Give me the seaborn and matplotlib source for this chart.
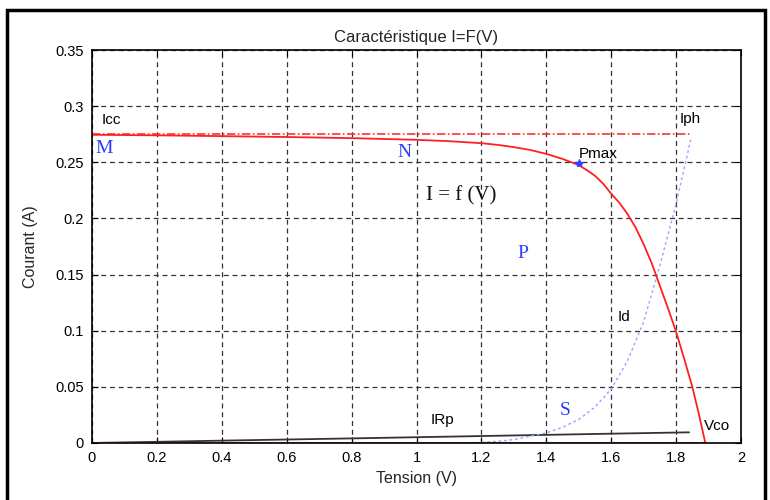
import pandas as pd
import seaborn as sns
import matplotlib.pyplot as plt
from matplotlib.patches import Rectangle

# Values
v_curve = [0, 0.2, 0.4, 0.6, 0.8, 1.0, 1.1, 1.2, 1.25, 1.3, 1.35, 1.4, 1.45, 1.5,
           1.525, 1.55, 1.575, 1.6, 1.625, 1.65, 1.675, 1.7, 1.725, 1.75, 1.775,
           1.8, 1.825, 1.85, 1.87, 1.89]
i_curve = [0.2745, 0.2740, 0.2733, 0.2725, 0.2715, 0.2700, 0.2688, 0.2670, 0.2655,
           0.2635, 0.2610, 0.2575, 0.2530, 0.2475, 0.2430, 0.2380, 0.2310, 0.2220,
           0.2140, 0.2040, 0.1920, 0.1770, 0.1600, 0.1400, 0.1200, 0.0990, 0.0750,
           0.0500, 0.0260, 0.0]

v_id = [1.15, 1.2, 1.25, 1.3, 1.35, 1.4, 1.45, 1.5, 1.55, 1.6, 1.65, 1.7, 1.75,
        1.8, 1.845]
i_id = [0.0, 0.0005, 0.0015, 0.003, 0.006, 0.009, 0.014, 0.021, 0.032, 0.048,
        0.073, 0.108, 0.158, 0.213, 0.270]

v_irp = [0, 0.4, 0.8, 1.2, 1.6, 1.84]
i_irp = [0, 0.0021, 0.0041, 0.0062, 0.0083, 0.0095]

v_icc = [0, 1.85]
i_icc = [0.2755, 0.2755]

v_zero = [0, 1.89]
i_zero = [0, 0]

v_pmax, i_pmax = 1.5, 0.249

df_curve = pd.DataFrame({'V': v_curve, 'I': i_curve})
df_id = pd.DataFrame({'V': v_id, 'I': i_id})
df_irp = pd.DataFrame({'V': v_irp, 'I': i_irp})

sns.set_style("white")
plt.rcParams['font.family'] = ['Liberation Sans', 'DejaVu Sans']

fig = plt.figure(figsize=(7.7, 5), dpi=100)
ax = fig.add_axes([92 / 770, 1 - 443 / 500, (741 - 92) / 770, (443 - 50) / 500])

# grid
ax.set_axisbelow(True)
ax.grid(True, color='#333333', linestyle=(0, (4, 3)), linewidth=0.9)

# curves
sns.lineplot(data=df_irp, x='V', y='I', ax=ax, color='#333333', linewidth=1.3)
sns.lineplot(data=df_id, x='V', y='I', ax=ax, color='#9aa4ff', linewidth=1.0,
             linestyle=(0, (2, 2)))
ax.plot(v_icc, i_icc, color='#ff3030', linewidth=1.2, linestyle=(0, (5, 1.5, 1, 1.5)))
ax.plot(v_zero, i_zero, color='#ff6060', linewidth=1.5)
sns.lineplot(data=df_curve, x='V', y='I', ax=ax, color='#ff2020', linewidth=1.3)
ax.plot([v_pmax], [i_pmax], marker='*', color='#3040ff', markersize=6, linestyle='none')

# annotations
txt = dict(fontsize=11, color='black')
serif_blue = dict(fontsize=14, color='#2a3cff', family='Liberation Serif')
ax.text(0.03, 0.284, 'Icc', **txt)
ax.text(1.81, 0.285, 'Iph', **txt)
ax.text(1.50, 0.254, 'Pmax', **txt)
ax.text(1.62, 0.109, 'Id', **txt)
ax.text(1.045, 0.017, 'IRp', **txt)
ax.text(1.885, 0.0115, 'Vco', **txt)
ax.text(0.01, 0.258, 'M', **serif_blue)
ax.text(0.94, 0.255, 'N', **serif_blue)
ax.text(1.31, 0.165, 'P', **serif_blue)
ax.text(1.44, 0.025, 'S', **serif_blue)
ax.text(1.03, 0.216, 'I = f (V)', fontsize=15, color='#111111', family='Liberation Serif')

ax.set_xlim(0, 2)
ax.set_ylim(0, 0.35)
ax.set_xticks([0, 0.2, 0.4, 0.6, 0.8, 1, 1.2, 1.4, 1.6, 1.8, 2])
ax.set_xticklabels(['0', '0.2', '0.4', '0.6', '0.8', '1', '1.2', '1.4', '1.6', '1.8', '2'])
ax.set_yticks([0, 0.05, 0.1, 0.15, 0.2, 0.25, 0.3, 0.35])
ax.set_yticklabels(['0', '0.05', '0.1', '0.15', '0.2', '0.25', '0.3', '0.35'])
ax.tick_params(direction='in', length=4, labelsize=10.5, colors='black', pad=6,
               top=True, right=True, bottom=True, left=True)
for s in ax.spines.values():
    s.set_color('black')
    s.set_linewidth(1.2)

ax.set_title('Caractéristique I=F(V)', fontsize=12, pad=6)
ax.set_xlabel('Tension (V)', fontsize=11.5, labelpad=4)
ax.set_ylabel('Courant (A)', fontsize=11.5, labelpad=12)

# outer frame
fig.patches.append(Rectangle((7 / 770, -0.05), (765 - 7) / 770, 1 - 10 / 500 + 0.05,
                             transform=fig.transFigure, fill=False,
                             edgecolor='black', linewidth=2.5))

fig.savefig('out.png', dpi=100)
